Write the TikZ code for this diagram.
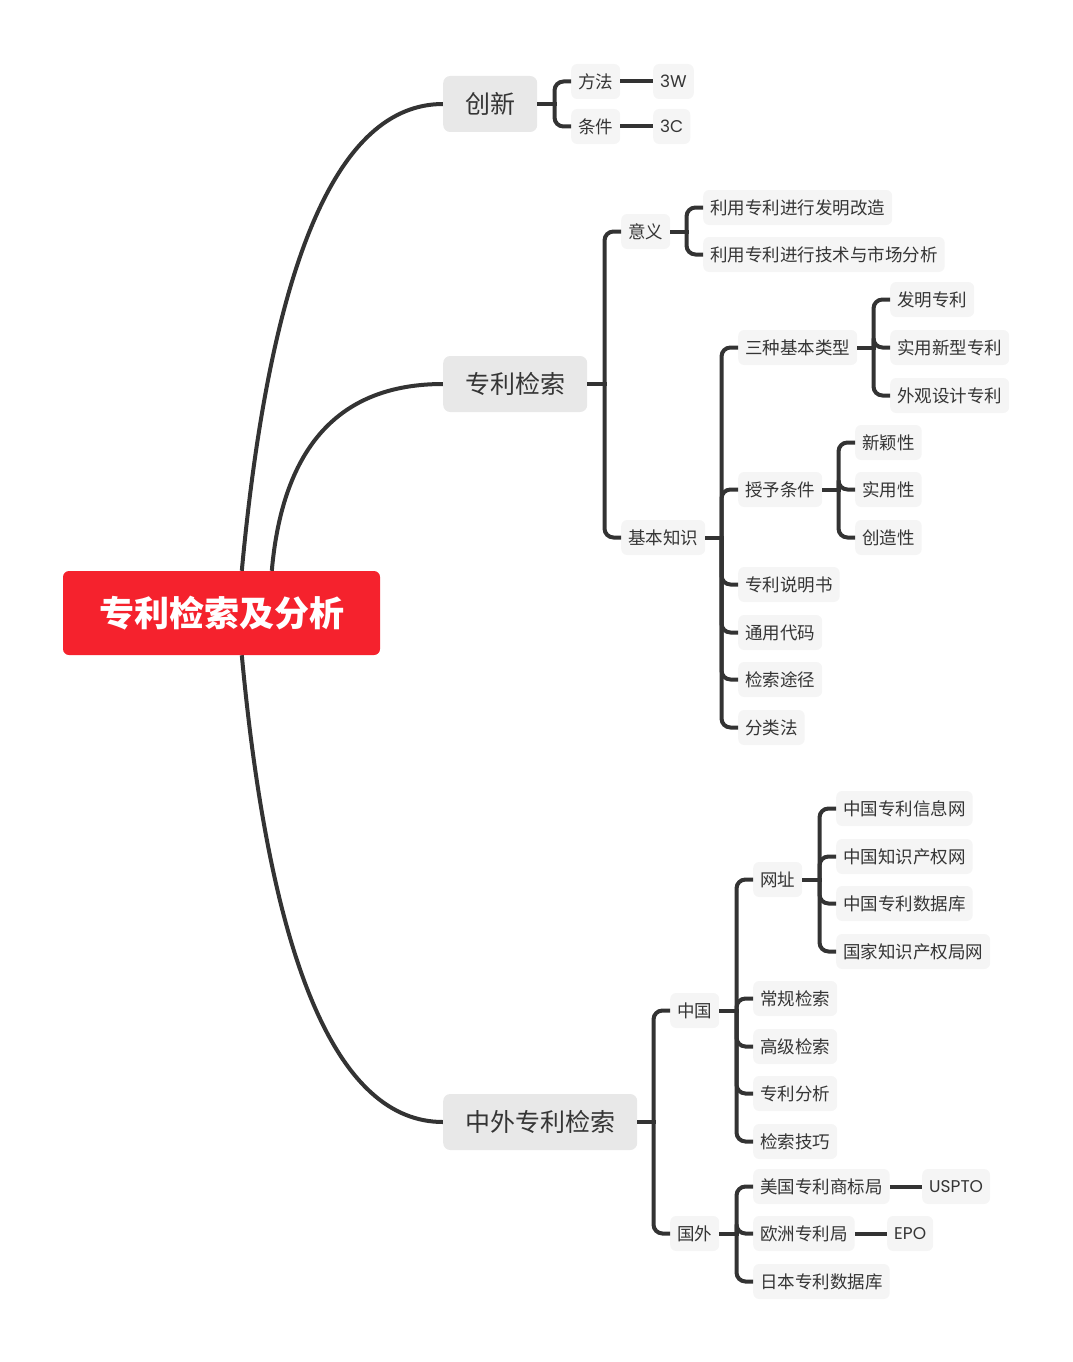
\documentclass[tikz,border=0pt]{standalone}
\usepackage{fontspec}
\setmainfont{Noto Sans CJK SC}
\newfontfamily\latinf{Poppins}
\usetikzlibrary{calc}
\pgfdeclarelayer{bg}
\pgfsetlayers{bg,main}
\definecolor{ln}{HTML}{333333}
\definecolor{tx}{HTML}{353535}
\definecolor{sfill}{HTML}{F5F5F5}
\definecolor{mfill}{HTML}{E8E8E8}
\definecolor{rootred}{HTML}{F5222D}
\tikzset{
  sub/.style={rectangle, rounded corners=6pt, fill=sfill, text=tx,
    font=\fontsize{17.5}{20}\selectfont, inner xsep=7pt, inner ysep=0pt,
    minimum height=35pt, anchor=west},
  lat/.style={sub, font=\fontsize{17}{20}\selectfont\latinf},
  mainn/.style={rectangle, rounded corners=7pt, fill=mfill, text=tx,
    font=\fontsize{25}{30}\selectfont, inner xsep=22pt, inner ysep=0pt,
    minimum height=56pt, anchor=west},
  rootn/.style={rectangle, rounded corners=6pt, fill=rootred, text=white,
    font=\fontsize{35}{40}\selectfont\bfseries, minimum width=317pt,
    minimum height=84pt, inner sep=0pt},
  conn/.style={draw=ln, line width=4pt},
  br/.style={conn, rounded corners=9pt},
}
\newcommand\mybranch[3]{%
  \coordinate (#1-j) at ($(#1.east -| #2.west)+(-16.5,0)$);
  \draw[conn] (#1.east) -- ($(#1-j)+(2,0)$);
  \foreach \c in {#3} {\draw[br] (#1-j) |- (\c.west);}
}
\begin{document}
\begin{tikzpicture}[x=1pt,y=-1pt]
\useasboundingbox (0,0) rectangle (1072,1362);
% root and main nodes
\node[rootn] (root) at (221.5,613) {专利检索及分析};
\node[mainn] (cx) at (443,104) {创新};
\node[mainn] (zljs) at (443,384) {专利检索};
\node[mainn] (zw) at (443,1122) {中外专利检索};
% root curves
\coordinate (r1) at ($(root.north west)+(179,0)$);
\coordinate (r2) at ($(root.north west)+(209,0)$);
\coordinate (r3) at ($(root.south west)+(179,0)$);
\begin{pgfonlayer}{bg}
\draw[conn] (r1) .. controls ($(r1)+(29,-311)$) and ($(cx.west)+(-105,0)$) .. (cx.west);
\draw[conn] (r2) .. controls ($(r2)+(11,-125)$) and ($(zljs.west)+(-103,0)$) .. (zljs.west);
\draw[conn] (r3) .. controls ($(r3)+(29,311)$) and ($(zw.west)+(-105,0)$) .. (zw.west);
\end{pgfonlayer}
% 创新
\node[sub] (ff) at (571,81.5) {方法};
\node[sub] (tj) at (571,126.5) {条件};
\node[lat] (w3) at (653,81.5) {3W};
\node[lat] (c3) at (653,126.5) {3C};
\mybranch{cx}{ff}{ff,tj}
\draw[conn] (ff.east) -- (w3.west);
\draw[conn] (tj.east) -- (c3.west);
% 专利检索
\node[sub] (yy) at (621,231.5) {意义};
\node[sub] (jbzs) at (621,537.5) {基本知识};
\mybranch{zljs}{yy}{yy,jbzs}
\node[sub] (yy1) at (703,207.5) {利用专利进行发明改造};
\node[sub] (yy2) at (703,254.5) {利用专利进行技术与市场分析};
\mybranch{yy}{yy1}{yy1,yy2}
\node[sub] (sz) at (738,347.5) {三种基本类型};
\node[sub] (sy) at (738,489.5) {授予条件};
\node[sub] (sm) at (738,584.5) {专利说明书};
\node[sub] (ty) at (738,632.5) {通用代码};
\node[sub] (tj2) at (738,679.5) {检索途径};
\node[sub] (fl) at (738,727.5) {分类法};
\mybranch{jbzs}{sz}{sz,sy,sm,ty,tj2,fl}
\node[sub] (fm) at (890,299.5) {发明专利};
\node[sub] (syx) at (890,347.5) {实用新型专利};
\node[sub] (wg) at (890,395.5) {外观设计专利};
\mybranch{sz}{fm}{fm,syx,wg}
\node[sub] (xy) at (855,442.5) {新颖性};
\node[sub] (syy) at (855,489.5) {实用性};
\node[sub] (cz) at (855,537.5) {创造性};
\mybranch{sy}{xy}{xy,syy,cz}
% 中外专利检索
\node[sub] (zg) at (670,1010.5) {中国};
\node[sub] (gw) at (670,1233.5) {国外};
\mybranch{zw}{zg}{zg,gw}
\node[sub] (wz) at (753,879.5) {网址};
\node[sub] (cg) at (753,998.5) {常规检索};
\node[sub] (gj) at (753,1046.5) {高级检索};
\node[sub] (fx) at (753,1093.5) {专利分析};
\node[sub] (jq) at (753,1141.5) {检索技巧};
\mybranch{zg}{wz}{wz,cg,gj,fx,jq}
\node[sub] (w1) at (836,808.5) {中国专利信息网};
\node[sub] (w2) at (836,856.5) {中国知识产权网};
\node[sub] (w3b) at (836,903.5) {中国专利数据库};
\node[sub] (w4) at (836,951.5) {国家知识产权局网};
\mybranch{wz}{w1}{w1,w2,w3b,w4}
\node[sub] (mg) at (753,1186.5) {美国专利商标局};
\node[sub] (oz) at (753,1233.5) {欧洲专利局};
\node[sub] (rb) at (753,1281.5) {日本专利数据库};
\mybranch{gw}{mg}{mg,oz,rb}
\node[lat] (us) at (922,1186.5) {USPTO};
\node[lat] (ep) at (887,1233.5) {EPO};
\draw[conn] (mg.east) -- (us.west);
\draw[conn] (oz.east) -- (ep.west);
\end{tikzpicture}
\end{document}
